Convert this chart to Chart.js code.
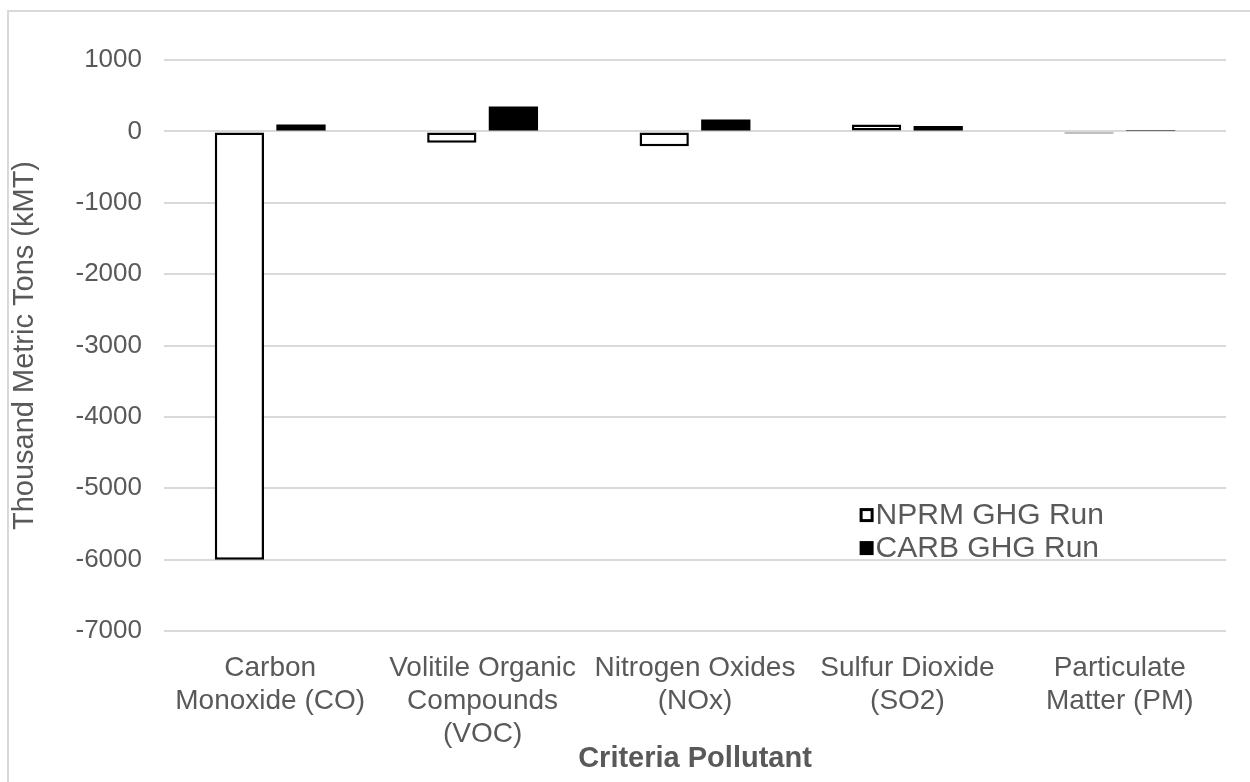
<!DOCTYPE html>
<html>
<head>
<meta charset="utf-8">
<script src="https://cdn.jsdelivr.net/npm/chart.js@4.4.3/dist/chart.umd.min.js"></script>
<style>
  html, body { margin: 0; padding: 0; background: #fff; overflow: hidden; }
  #frame {
    position: absolute; left: 7px; top: 10px;
    width: 1300px; height: 820px;
    border: 2px solid #d9d9d9; box-sizing: border-box;
  }
  #wrap { position: absolute; left: 0; top: 0; width: 1250px; height: 782px; }
</style>
</head>
<body>
<div id="frame"></div>
<div id="wrap"><canvas id="chart" width="1250" height="782"></canvas></div>
<script>
// ── data ────────────────────────────────────────────────────────────────────
const categories = [
  ['Carbon', 'Monoxide (CO)'],
  ['Volitile Organic', 'Compounds', '(VOC)'],
  ['Nitrogen Oxides', '(NOx)'],
  ['Sulfur Dioxide', '(SO2)'],
  ['Particulate', 'Matter (PM)'],
];
const nprmValues = [-6000, -160, -210, 95, -30];
const carbValues = [95, 350, 168, 74, 5];
const seriesNames = ['NPRM GHG Run', 'CARB GHG Run'];
const yTicks = [1000, 0, -1000, -2000, -3000, -4000, -5000, -6000, -7000];

// ── styling ─────────────────────────────────────────────────────────────────
const FONT = "'Liberation Sans', Arial, sans-serif";
const TEXT = '#595959';
const GRID = '#d9d9d9';

// legend drawn inside the plot, lower right (like the Excel original)
const insideLegend = {
  id: 'insideLegend',
  afterDraw(chart) {
    const { ctx, chartArea } = chart;
    const x = chartArea.left + (chartArea.right - chartArea.left) * 0.655;
    const y0 = chartArea.top + (chartArea.bottom - chartArea.top) * 0.797;
    const rowH = 33;
    ctx.save();
    ctx.font = `30px ${FONT}`;
    ctx.textBaseline = 'middle';
    chart.data.datasets.forEach((ds, i) => {
      const cy = y0 + i * rowH;
      if (i === 0) {
        ctx.fillStyle = '#fff';
        ctx.fillRect(x + 1, cy - 6, 12, 12);
        ctx.lineWidth = 3;
        ctx.strokeStyle = '#000';
        ctx.strokeRect(x + 1.5, cy - 5.5, 11, 11);
      } else {
        ctx.fillStyle = '#000';
        ctx.fillRect(x, cy - 7, 14, 14);
      }
      ctx.fillStyle = TEXT;
      ctx.fillText(ds.label, x + 16, cy + 1);
    });
    ctx.restore();
  },
};

new Chart(document.getElementById('chart'), {
  type: 'bar',
  data: {
    labels: categories,
    datasets: [
      {
        label: seriesNames[0],
        data: nprmValues,
        backgroundColor: '#ffffff',
        borderColor: '#000000',
        borderWidth: 2.5,
        borderSkipped: false,
        barPercentage: 0.8,
        categoryPercentage: 0.58,
      },
      {
        label: seriesNames[1],
        data: carbValues,
        backgroundColor: '#000000',
        borderWidth: 0,
        barPercentage: 0.8,
        categoryPercentage: 0.58,
      },
    ],
  },
  options: {
    responsive: false,
    animation: false,
    devicePixelRatio: 1,
    layout: { padding: { left: 8, top: 60, right: 24, bottom: 6 } },
    plugins: {
      legend: { display: false },
      tooltip: { enabled: false },
    },
    scales: {
      x: {
        grid: { display: false },
        border: { display: false },
        ticks: {
          color: TEXT,
          font: { family: FONT, size: 28, lineHeight: 1.18 },
          maxRotation: 0,
          autoSkip: false,
          padding: 13,
        },
        title: {
          display: true,
          text: 'Criteria Pollutant',
          color: TEXT,
          font: { family: FONT, size: 29, weight: 'bold' },
          padding: { top: -27, bottom: 0 },
        },
        afterFit: s => { s.height = 145; },
      },
      y: {
        min: -7000,
        max: 1000,
        afterBuildTicks: s => { s.ticks = yTicks.map(v => ({ value: v })); },
        grid: { color: GRID, lineWidth: 2, drawTicks: false },
        border: { display: false },
        ticks: {
          color: TEXT,
          font: { family: FONT, size: 26 },
          padding: 22,
          callback: v => String(v),
        },
        title: {
          display: true,
          text: 'Thousand Metric Tons (kMT)',
          color: TEXT,
          font: { family: FONT, size: 29 },
          padding: { top: 0, bottom: 0 },
        },
        afterFit: s => { s.width = 156; },
      },
    },
  },
  plugins: [insideLegend],
});
</script>
</body>
</html>
